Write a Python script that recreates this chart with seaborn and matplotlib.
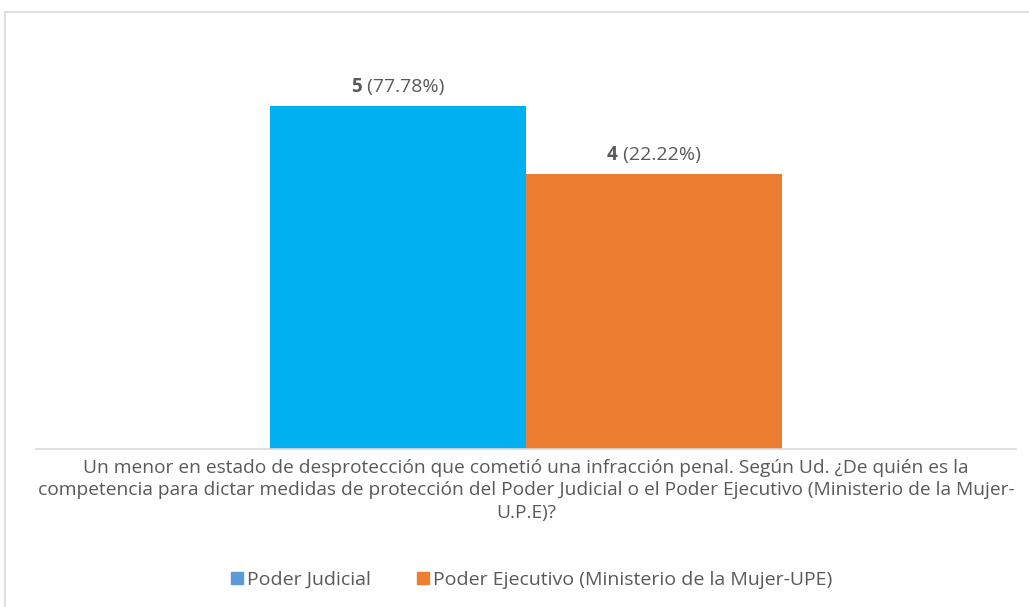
import pandas as pd
import matplotlib.pyplot as plt
import seaborn as sns
from matplotlib.patches import Rectangle

# --- data ---
question = ("Un menor en estado de desprotección que cometió una infracción penal. Según Ud. ¿De quién es la\n"
            "competencia para dictar medidas de protección del Poder Judicial o el Poder Ejecutivo (Ministerio de la Mujer-\n"
            "U.P.E)?")
series = ["Poder Judicial", "Poder Ejecutivo (Ministerio de la Mujer-UPE)"]
counts = [5, 4]
percents = ["77.78%", "22.22%"]
bar_colors = ["#00B0F0", "#ED7D31"]
legend_colors = ["#5B9BD5", "#ED7D31"]

df = pd.DataFrame({"pregunta": [question] * len(series), "serie": series, "valor": counts})

sns.set_style("white")
plt.rcParams["font.family"] = ["Open Sans", "DejaVu Sans"]
text_gray = "#595959"
fs = 14

fig = plt.figure(figsize=(10.29, 6.07), dpi=100)
ax = fig.add_axes([36 / 1029, 1 - 449 / 607, 980 / 1029, 412 / 607])

sns.barplot(data=df, x="pregunta", y="valor", hue="serie", palette=bar_colors,
            width=0.522, saturation=1, ax=ax, legend=False, linewidth=0)

ax.set_ylim(0, 6)
ax.set_xlim(-0.5, 0.5)
ax.set_yticks([])
ax.set_ylabel("")
ax.set_xlabel("")
for side in ["left", "right", "top"]:
    ax.spines[side].set_visible(False)
ax.spines["bottom"].set_color("#D9D9D9")
ax.spines["bottom"].set_linewidth(1.2)
ax.tick_params(axis="x", length=0, pad=7, labelsize=13.8, labelcolor=text_gray)
for lbl in ax.get_xticklabels():
    lbl.set_linespacing(1.33)

# value labels: bold count + normal percentage
renderer = fig.canvas.get_renderer()
off = 10
for bar, c, p in zip(ax.patches, counts, percents):
    cx = bar.get_x() + bar.get_width() / 2
    top = bar.get_height()
    t1 = ax.annotate(f"{c}", (cx, top), xytext=(0, off), textcoords="offset points",
                     ha="left", va="baseline", fontsize=13.5, fontweight="bold", color=text_gray)
    t2 = ax.annotate(f" ({p})", (cx, top), xytext=(0, off), textcoords="offset points",
                     ha="left", va="baseline", fontsize=fs, color=text_gray)
    w1 = t1.get_window_extent(renderer).width * 72 / fig.dpi
    w2 = t2.get_window_extent(renderer).width * 72 / fig.dpi
    start = -(w1 + w2) / 2
    t1.set_position((start, off))
    t2.set_position((start + w1, off))

handles = [plt.Line2D([0], [0], color=col, marker="s", linestyle="None", markersize=8.5, label=s)
           for col, s in zip(legend_colors, series)]
fig.legend(handles=handles, loc="center", bbox_to_anchor=(531 / 1029, 1 - 580 / 607), ncol=2,
           frameon=False, fontsize=fs, labelcolor=text_gray, handletextpad=0.1,
           columnspacing=2.3, handlelength=0.8)

# outer chart border
fig.patches.append(Rectangle((5 / 1029, -0.1), 1.2, 1.1 - 12 / 607, transform=fig.transFigure,
                             fill=False, edgecolor="#D9D9D9", linewidth=1.2))

fig.savefig("out.png", dpi=100)
